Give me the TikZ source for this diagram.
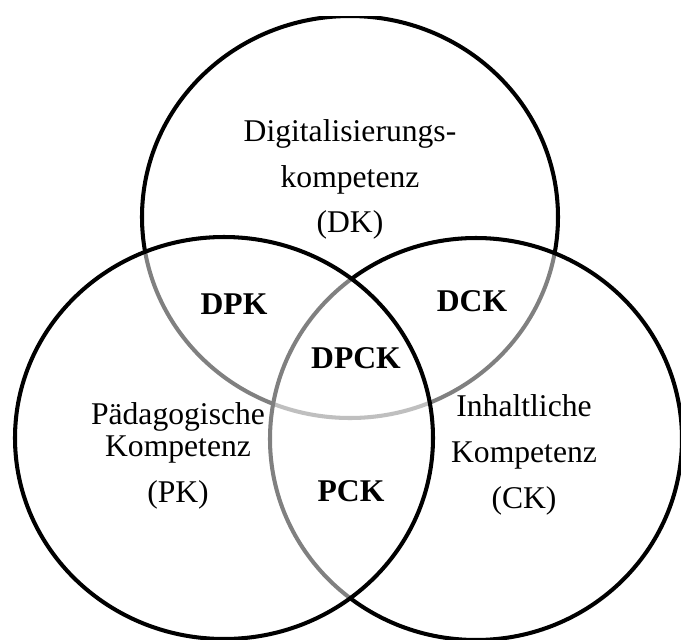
\documentclass[tikz,border=0pt]{standalone}
\usepackage{fontspec}
\setmainfont{Liberation Serif}
\usetikzlibrary{positioning}
\tikzstyle{venn}=[
    line width=2.3pt,
    draw=black,
    fill=white,
    fill opacity=0.5,
    draw opacity=1
]
\tikzstyle{area}=[align=center,inner sep=0pt,anchor=base,
    font=\fontsize{18}{25.9}\selectfont]
\tikzstyle{overlap}=[area,font=\fontsize{18}{25.9}\selectfont\bfseries]
\begin{document}
\begin{tikzpicture}[x=0.02cm,y=-0.02cm]
\useasboundingbox (0,0) rectangle (681,640);
\clip (0,16) rectangle (681,640);
% circles, the later ones fade the lines below them
\draw[venn] (350,217) ellipse [x radius=208,y radius=201];
\draw[venn] (476,439) ellipse [x radius=206,y radius=201];
\draw[venn] (224,438) ellipse [x radius=209,y radius=201];
% labels (base is the last line)
\node[area] (dk) at (350,232.7) {Digitalisierungs-\\kompetenz\\(DK)};
\node[area] (pk) at (178,502) {P\"adagogische\\[-7.7pt]Kompetenz\\(PK)};
\node[area] (ck) at (524,508) {Inhaltliche\\Kompetenz\\(CK)};
\node[overlap] (dpk) at (234,314) {DPK};
\node[overlap] (dck) at (472,311) {DCK};
\node[overlap] (dpck) at (356,368) {DPCK};
\node[overlap] (pck) at (351,501) {PCK};
\end{tikzpicture}
\end{document}
